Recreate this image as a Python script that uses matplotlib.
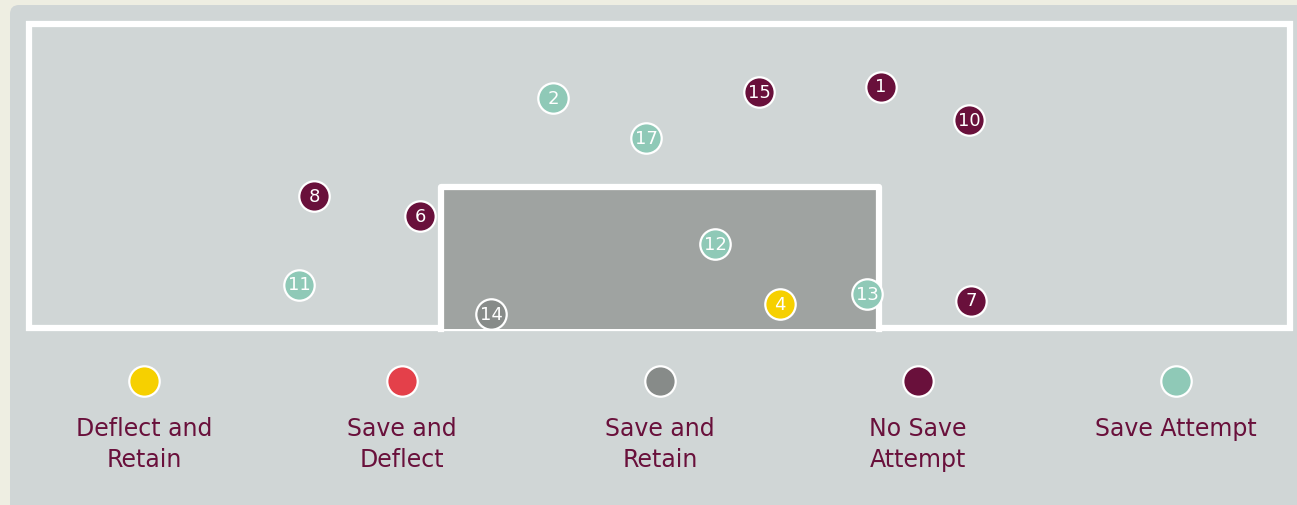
import matplotlib.pyplot as plt
from matplotlib.patches import FancyBboxPatch, Rectangle

# Datos de los disparos (posicion en la porteria, en pixeles del dibujo)
shot_num = [2, 15, 1, 10, 17, 8, 6, 12, 11, 4, 13, 7, 14]
shot_x = [553, 759, 881, 969, 646, 314, 420, 715, 299, 780, 867, 971, 491]
shot_y = [98, 92, 87, 120, 138, 196, 216, 244, 285, 304, 294, 301, 314]
shot_tipo = ['Save Attempt', 'No Save Attempt', 'No Save Attempt', 'No Save Attempt',
             'Save Attempt', 'No Save Attempt', 'No Save Attempt', 'Save Attempt',
             'Save Attempt', 'Deflect and Retain', 'Save Attempt', 'No Save Attempt',
             'Save and Retain']

categorias = ['Deflect and Retain', 'Save and Deflect', 'Save and Retain',
              'No Save Attempt', 'Save Attempt']
etiquetas = ['Deflect and\nRetain', 'Save and\nDeflect', 'Save and\nRetain',
             'No Save\nAttempt', 'Save Attempt']
colores = {'Deflect and Retain': '#f6d000', 'Save and Deflect': '#e4404a',
           'Save and Retain': '#878b89', 'No Save Attempt': '#69103b',
           'Save Attempt': '#8fc9b7'}

W, H = 1297, 505
fig = plt.figure(figsize=(W / 100, H / 100), dpi=100)
fig.patch.set_facecolor('#eeeee2')
ax = fig.add_axes([0, 0, 1, 1])
ax.set_xlim(0, W)
ax.set_ylim(H, 0)
ax.axis('off')

# panel gris
ax.add_patch(FancyBboxPatch((10, 5), W + 20, H + 20, boxstyle='round,pad=0,rounding_size=9',
                            facecolor='#d0d6d6', edgecolor='none', zorder=0))
# marco exterior
ax.add_patch(Rectangle((29, 24), 1261, 304, facecolor='none', edgecolor='white',
                       linewidth=4.5, zorder=1))
# porteria
ax.add_patch(Rectangle((441, 187), 438, 142, facecolor='#9fa3a1', edgecolor='none', zorder=2))
ax.plot([441, 441, 879, 879], [329, 187, 187, 329], color='white', linewidth=4.5,
        solid_joinstyle='round', zorder=3)

# disparos
for n, x, y, t in zip(shot_num, shot_x, shot_y, shot_tipo):
    ax.scatter(x, y, s=480, color=colores[t], edgecolors='white', linewidths=1.6, zorder=5)
    ax.text(x, y + 0.5, str(n), color='white', fontsize=13, ha='center', va='center', zorder=6)

# leyenda
leg_x = [144, 402, 660, 918, 1176]
for cx, cat, lab in zip(leg_x, categorias, etiquetas):
    ax.scatter(cx, 381, s=480, color=colores[cat], edgecolors='white', linewidths=1.6, zorder=5)
    ax.text(cx, 417, lab, color='#69103b', fontsize=17, ha='center', va='top',
            linespacing=1.39, zorder=6)

fig.savefig('out.png', dpi=100, facecolor=fig.get_facecolor())
